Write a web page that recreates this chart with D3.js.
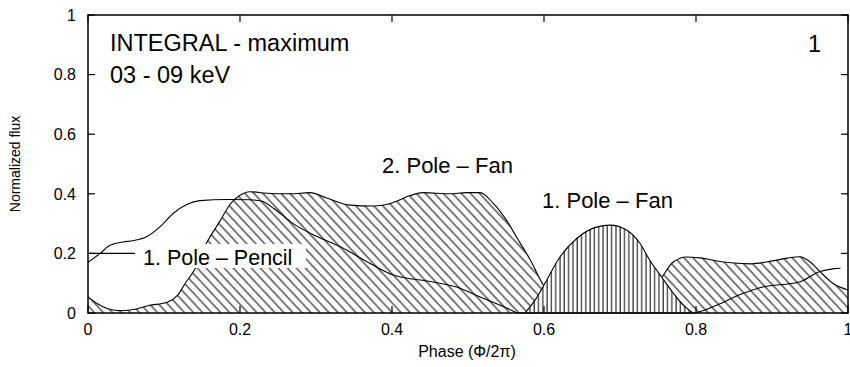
<!DOCTYPE html>
<html>
<head>
<meta charset="utf-8">
<script src="https://cdn.jsdelivr.net/npm/d3@7"></script>
<style>
  body { margin: 0; background: #fff; }
  svg text { font-family: "Liberation Sans", Arial, Helvetica, sans-serif; fill: #000; }
</style>
</head>
<body>
<div class="canvas"></div>
<script>
// pulse profile pieces, [phase, normalized flux]
const pencil = [[0,0.17],[0.016,0.20],[0.029,0.227],[0.046,0.238],[0.06,0.243],[0.077,0.256],
  [0.095,0.29],[0.112,0.334],[0.13,0.364],[0.147,0.377],[0.183,0.381],[0.213,0.38],[0.228,0.376],
  [0.245,0.35],[0.27,0.3],[0.3,0.258],[0.332,0.222],[0.375,0.161],[0.401,0.128],[0.454,0.104],
  [0.485,0.087],[0.516,0.054],[0.551,0.017],[0.567,0],[0.796,0],[0.828,0.027],[0.858,0.062],
  [0.884,0.085],[0.937,0.105],[0.963,0.139],[0.98,0.148],[0.99,0.15]];

const fan2 = [[0,0.054],[0.013,0.03],[0.026,0.014],[0.04,0.008],[0.06,0.012],[0.08,0.025],
  [0.105,0.037],[0.118,0.06],[0.128,0.1],[0.14,0.144],[0.156,0.235],[0.174,0.31],[0.187,0.365],
  [0.2,0.395],[0.213,0.407],[0.235,0.402],[0.266,0.4],[0.292,0.404],[0.314,0.386],[0.345,0.362],
  [0.375,0.359],[0.401,0.37],[0.424,0.394],[0.441,0.404],[0.476,0.4],[0.498,0.404],[0.516,0.404],
  [0.533,0.369],[0.551,0.31],[0.565,0.25],[0.582,0.178],[0.6,0.09],[0.62,0.04],[0.65,0.01],
  [0.7,0.01],[0.73,0.04],[0.755,0.12],[0.77,0.171],[0.788,0.188],[0.805,0.185],[0.836,0.171],
  [0.871,0.165],[0.901,0.175],[0.92,0.184],[0.937,0.189],[0.95,0.172],[0.963,0.139],[0.98,0.1],[1,0.077]];

const fan1 = [[0.575,0],[0.59,0.05],[0.6,0.094],[0.621,0.188],[0.643,0.25],[0.67,0.289],
  [0.687,0.295],[0.709,0.278],[0.726,0.235],[0.739,0.178],[0.755,0.12],[0.77,0.067],
  [0.783,0.027],[0.796,0]];

const xTicks = [0, 0.2, 0.4, 0.6, 0.8, 1];
const yTicks = [0, 0.2, 0.4, 0.6, 0.8, 1];

const W = 850, H = 367;
const m = { t: 15, r: 2, b: 54, l: 88 };

const svg = d3.select('.canvas').append('svg')
  .attr('width', W)
  .attr('height', H);

const x = d3.scaleLinear().domain([0, 1]).range([m.l, W - m.r]);
const y = d3.scaleLinear().domain([0, 1]).range([H - m.b, m.t]);

// hatch patterns
const defs = svg.append('defs');
defs.append('pattern')
  .attr('id', 'diag')
  .attr('patternUnits', 'userSpaceOnUse')
  .attr('width', 6.6).attr('height', 20)
  .attr('patternTransform', 'rotate(-43)')
  .append('line')
  .attr('x1', 1).attr('y1', -2).attr('x2', 1).attr('y2', 22)
  .attr('stroke', '#000').attr('stroke-width', 1);

defs.append('pattern')
  .attr('id', 'vert')
  .attr('patternUnits', 'userSpaceOnUse')
  .attr('width', 4.3).attr('height', 20)
  .append('line')
  .attr('x1', 1).attr('y1', -2).attr('x2', 1).attr('y2', 22)
  .attr('stroke', '#000').attr('stroke-width', 1);

const area = d3.area()
  .x(d => x(d[0]))
  .y0(y(0))
  .y1(d => y(d[1]))
  .curve(d3.curveMonotoneX);

const line = d3.line()
  .x(d => x(d[0]))
  .y(d => y(d[1]))
  .curve(d3.curveMonotoneX);

function drawHatched(data, pat) {
  svg.append('path').datum(data).attr('d', area).attr('fill', '#fff');
  svg.append('path').datum(data).attr('d', area).attr('fill', `url(#${pat})`);
  svg.append('path').datum(data).attr('d', line)
    .attr('fill', 'none').attr('stroke', '#000').attr('stroke-width', 1.1);
}

drawHatched(fan2, 'diag');
drawHatched(fan1, 'vert');

svg.append('path').datum(pencil).attr('d', line)
  .attr('fill', 'none').attr('stroke', '#000').attr('stroke-width', 1.1);

// frame with inward ticks
svg.append('rect')
  .attr('x', x(0)).attr('y', y(1))
  .attr('width', x(1) - x(0)).attr('height', y(0) - y(1))
  .attr('fill', 'none').attr('stroke', '#000').attr('stroke-width', 1.5);

const tl = 7;
const ticks = svg.append('g').attr('stroke', '#000').attr('stroke-width', 1.2);
yTicks.forEach(v => {
  ticks.append('line').attr('x1', x(0)).attr('x2', x(0) + tl).attr('y1', y(v)).attr('y2', y(v));
  ticks.append('line').attr('x1', x(1)).attr('x2', x(1) - tl).attr('y1', y(v)).attr('y2', y(v));
});
xTicks.forEach(v => {
  ticks.append('line').attr('x1', x(v)).attr('x2', x(v)).attr('y1', y(0)).attr('y2', y(0) - tl);
  ticks.append('line').attr('x1', x(v)).attr('x2', x(v)).attr('y1', y(1)).attr('y2', y(1) + tl);
});

// tick labels
svg.append('g').selectAll('text').data(yTicks).enter().append('text')
  .attr('x', x(0) - 12).attr('y', d => y(d)).attr('dy', '0.36em')
  .attr('text-anchor', 'end').style('font-size', '16px')
  .text(d => d3.format('~g')(d));

svg.append('g').selectAll('text').data(xTicks).enter().append('text')
  .attr('x', d => x(d)).attr('y', 335)
  .attr('text-anchor', 'middle').style('font-size', '16px')
  .text(d => d3.format('~g')(d));

// axis titles
svg.append('text')
  .attr('transform', `translate(20,${(y(0) + y(1)) / 2}) rotate(-90)`)
  .attr('text-anchor', 'middle').style('font-size', '14px')
  .text('Normalized flux');

svg.append('text')
  .attr('x', (x(0) + x(1)) / 2 - 1).attr('y', 357)
  .attr('text-anchor', 'middle').style('font-size', '16px')
  .text('Phase (Φ/2π)');

// annotations
const head = svg.append('g').style('font-size', '23.5px');
head.append('text').attr('x', 110).attr('y', 51).text('INTEGRAL - maximum');
head.append('text').attr('x', 110).attr('y', 83).text('03 - 09 keV');
head.append('text').attr('x', 821).attr('y', 52).attr('text-anchor', 'end').text('1');

const ann = svg.append('g').style('font-size', '22px');
ann.append('text').attr('x', 382).attr('y', 173).text('2. Pole \u2013 Fan');
ann.append('text').attr('x', 542).attr('y', 208).text('1. Pole \u2013 Fan');

svg.append('line')
  .attr('x1', x(0)).attr('x2', x(0.062)).attr('y1', y(0.2)).attr('y2', y(0.2))
  .attr('stroke', '#000').attr('stroke-width', 1.1);
svg.append('rect')
  .attr('x', 138).attr('y', 244).attr('width', 168).attr('height', 24)
  .attr('fill', '#fff');
svg.append('text').attr('x', 143).attr('y', 265).style('font-size', '21.5px')
  .text('1. Pole \u2013 Pencil');
</script>
</body>
</html>
